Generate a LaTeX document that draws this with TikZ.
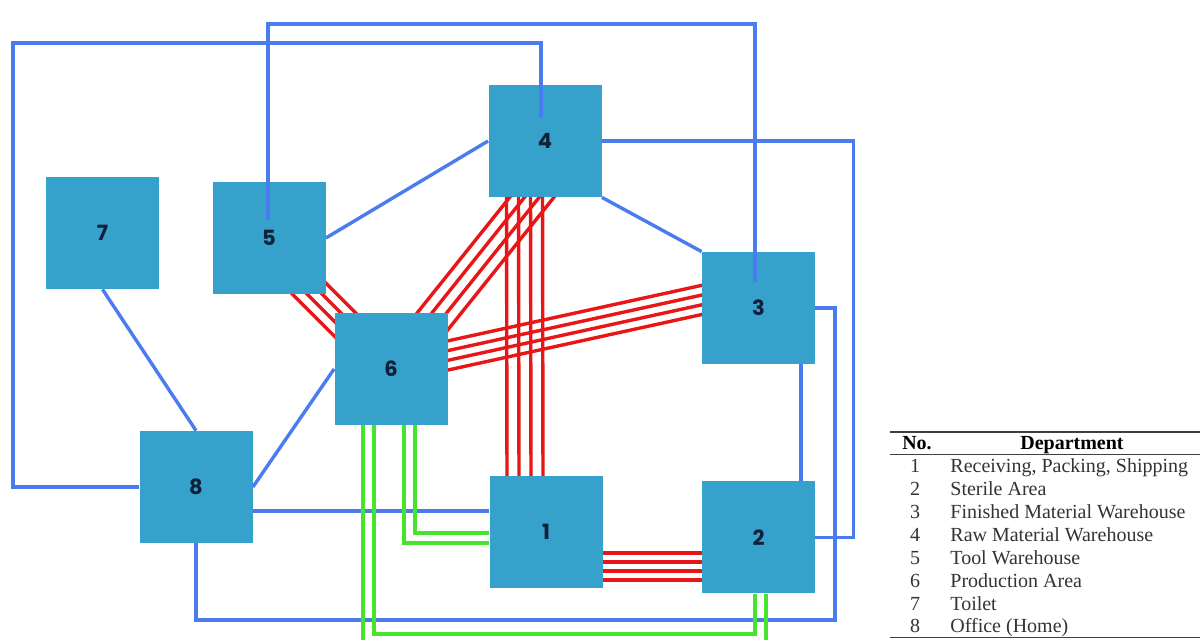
\documentclass[tikz,border=0pt]{standalone}
\usepackage{fontspec}
\setmainfont{Liberation Serif}
\newfontfamily\boxfont{Poppins}
\usepackage{tikz}
\usetikzlibrary{backgrounds}
\usetikzlibrary{calc, positioning}

\definecolor{boxblue}{RGB}{54,162,204}
\definecolor{linkblue}{RGB}{74,124,240}
\definecolor{flowred}{RGB}{232,22,22}
\definecolor{flowgreen}{RGB}{70,228,44}
\definecolor{labelink}{RGB}{16,32,56}

\tikzset{
  dept/.style={rectangle, fill=boxblue, minimum width=56.5pt, minimum height=56pt,
    inner sep=0pt, text=labelink, font=\boxfont\bfseries\fontsize{10.5}{10.5}\selectfont},
  link/.style={draw=linkblue, line width=1.7pt},
  redflow/.style={draw=flowred, line width=1.7pt},
  greenflow/.style={draw=flowgreen, line width=1.6pt},
  tabhead/.style={anchor=base, inner sep=0pt, font=\bfseries\fontsize{10}{12}\selectfont},
  tabno/.style={anchor=base, inner sep=0pt, text=black!80, font=\fontsize{10}{12}\selectfont},
  tabname/.style={anchor=base west, inner sep=0pt, text=black!80, font=\fontsize{10}{12}\selectfont}
}

\begin{document}
\begin{tikzpicture}[x=0.5pt, y=-0.5pt]
          \useasboundingbox (0,0) rectangle (1200,640);
          % Departments
          \node[dept] (n7) at (102.5,233) {7};
          \node[dept] (n5) at (269,238) {5};
          \node[dept] (n4) at (545,141) {4};
          \node[dept] (n6) at (391,369) {6};
          \node[dept] (n3) at (758.5,308) {3};
          \node[dept] (n8) at (196,487) {8};
          \node[dept] (n1) at (546,532) {1};
          \node[dept] (n2) at (758.5,537.5) {2};
          % Red flows (behind the boxes)
          \begin{scope}[on background layer]
            \coordinate (r1a) at ($(n1.east)+(-8,34.5)$);
            \coordinate (r1b) at ($(n2.west)+(8,29)$);
            \coordinate (r2a) at ($(n4.south)+(-20.5,-12)$);
            \coordinate (r2b) at ($(n1.north)+(-21,12)$);
            \coordinate (r3a) at ($(n6.north east)+(-26,22)$);
            \coordinate (r3b) at ($(n4.south)+(2,-19)$);
            \coordinate (r4a) at ($(n6.east)+(-18,-9.6)$);
            \coordinate (r4b) at ($(n3.west)+(20,-12.4)$);
            \coordinate (r5a) at ($(n5.south east)+(-25,-14)$);
            \coordinate (r5b) at ($(n6.north west)+(21,22)$);
            \foreach \o in {-1.5,-0.5,0.5,1.5} {
              \draw[redflow] ($(r1a)!\o*4.5pt!90:(r1b)$) -- ($(r1b)!\o*4.5pt!-90:(r1a)$);
              \draw[redflow] ($(r2a)!\o*6pt!90:(r2b)$) -- ($(r2b)!\o*6pt!-90:(r2a)$);
              \draw[redflow] ($(r3a)!\o*5.75pt!90:(r3b)$) -- ($(r3b)!\o*5.75pt!-90:(r3a)$);
              \draw[redflow] ($(r4a)!\o*4.75pt!90:(r4b)$) -- ($(r4b)!\o*4.75pt!-90:(r4a)$);
              \draw[redflow] ($(r5a)!\o*5.25pt!90:(r5b)$) -- ($(r5b)!\o*5.25pt!-90:(r5a)$);
            }
          \end{scope}
          % Blue links
          \draw[link] (n8.west) -| (13,43) -| ($(n4.center)+(-4,-23)$);
          \draw[link] ($(n5.center)+(-1,-18)$) |- (755,24) -- ($(n3.center)+(-3.5,-26)$);
          \draw[link] (n4.east) -| ($(n2.east)+(38,0)$) -- (n2.east);
          \draw[link] (n3.east) -| (835,620) -| (n8.south);
          \draw[link] ($(n3.south)+(42.5,0)$) -- ($(n2.north)+(42.5,0)$);
          \draw[link] (n4.west) -- (n5.east);
          \draw[link] (n4.south east) -- (n3.north west);
          \draw[link] (n7.south) -- (n8.north);
          \draw[link] (n6.west) -- (n8.east);
          \draw[link] ($(n8.east)+(0,24)$) -- ($(n1.west)+(0,-21)$);
          % Green flows
          \draw[greenflow] ($(n6.south)+(13,0)$) |- ($(n1.west)+(0,11)$);
          \draw[greenflow] ($(n6.south)+(24,0)$) |- ($(n1.west)+(0,1)$);
          \draw[greenflow] ($(n6.south)+(-17,0)$) |- (755,634) -- ($(n2.south)+(-3.5,0)$);
          \draw[greenflow] ($(n6.south)+(-28,0)$) |- (766,646) -- ($(n2.south)+(7.5,0)$);
          % Legend
          \draw[line width=0.8pt, black!75] (890,432) -- (1200,432);
          \draw[line width=0.5pt, black!75] (890,455) -- (1200,455);
          \draw[line width=0.5pt, black!75] (890,638) -- (1200,638);
          \node[tabhead] (hno) at (917,450) {No.};
          \node[tabhead] (hdep) at (1072,450) {Department};
          \node[tabno] (k1) at (915,473) {1};
          \node[tabno] (k2) at (915,495.9) {2};
          \node[tabno] (k3) at (915,518.7) {3};
          \node[tabno] (k4) at (915,541.6) {4};
          \node[tabno] (k5) at (915,564.4) {5};
          \node[tabno] (k6) at (915,587.3) {6};
          \node[tabno] (k7) at (915,610.2) {7};
          \node[tabno] (k8) at (915,633) {8};
          \node[tabname] (d1) at (950,473) {Receiving, Packing, Shipping};
          \node[tabname] (d2) at (950,495.9) {Sterile Area};
          \node[tabname] (d3) at (950,518.7) {Finished Material Warehouse};
          \node[tabname] (d4) at (950,541.6) {Raw Material Warehouse};
          \node[tabname] (d5) at (950,564.4) {Tool Warehouse};
          \node[tabname] (d6) at (950,587.3) {Production Area};
          \node[tabname] (d7) at (950,610.2) {Toilet};
          \node[tabname] (d8) at (950,633) {Office (Home)};
        \end{tikzpicture}
\end{document}
